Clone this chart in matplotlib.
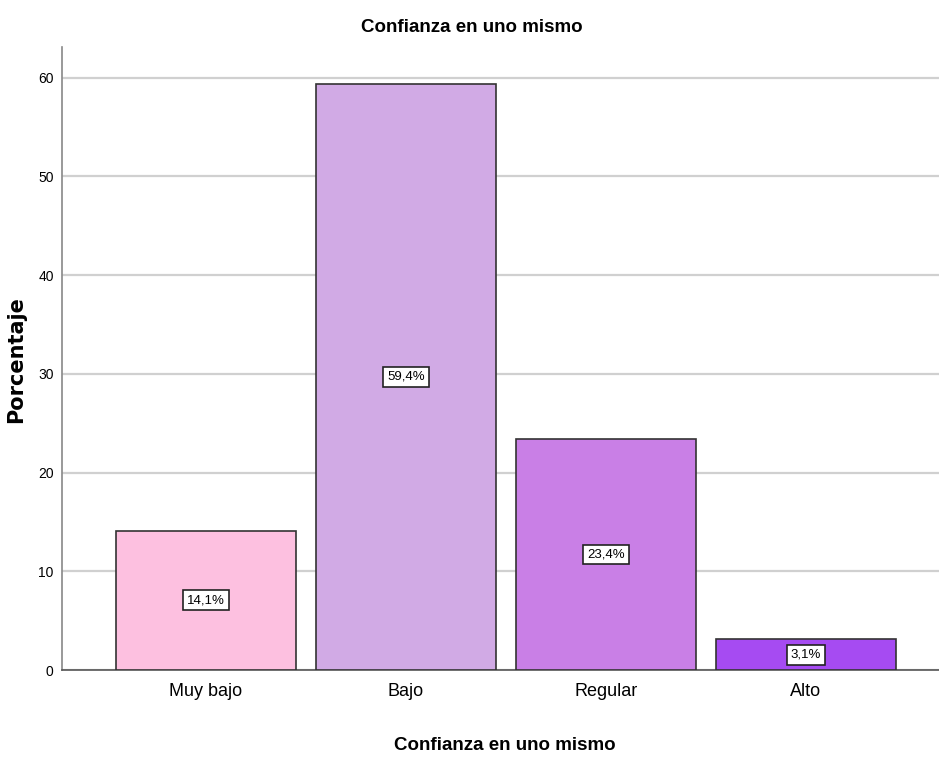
import matplotlib
matplotlib.use("Agg")
import matplotlib.pyplot as plt

categories = ["Muy bajo", "Bajo", "Regular", "Alto"]
values = [14.1, 59.4, 23.4, 3.1]
labels = ["14,1%", "59,4%", "23,4%", "3,1%"]
colors = ["#FDC0E0", "#D1AAE5", "#C97FE6", "#A64BF2"]
yticks = [0, 10, 20, 30, 40, 50, 60]

plt.rcParams["font.family"] = ["Liberation Sans", "DejaVu Sans"]

W, H = 939, 758
fig = plt.figure(figsize=(W / 100, H / 100), dpi=100)
ax = fig.add_axes([62 / W, (H - 670) / H, (939 - 62) / W, (670 - 47) / H])

x = list(range(len(categories)))
ax.bar(x, values, width=0.9, color=colors, edgecolor="#333333", linewidth=1.2, zorder=3)
for xi, v, lab in zip(x, values, labels):
    ax.text(xi, v / 2, lab, ha="center", va="center", fontsize=9.5, zorder=4,
            bbox=dict(boxstyle="square,pad=0.3", facecolor="white", edgecolor="#222222", linewidth=1.2))

ax.set_xlim(-0.72, 3.665)
ax.set_ylim(0, 63.1)
ax.set_yticks(yticks)
ax.set_yticklabels([str(t) for t in yticks], fontsize=10)
ax.set_xticks(x)
ax.set_xticklabels(categories, fontsize=13)
ax.tick_params(axis="y", length=0, pad=6)
ax.tick_params(axis="x", length=0, pad=9)
ax.yaxis.grid(True, color="#d0d0d0", linewidth=1.6, zorder=0)
ax.set_axisbelow(True)
for s in ["top", "right"]:
    ax.spines[s].set_visible(False)
ax.spines["left"].set_color("#888888")
ax.spines["bottom"].set_color("#555555")
ax.spines["left"].set_linewidth(1.2)
ax.spines["bottom"].set_linewidth(1.2)

fig.text(472 / W, 1 - 28 / H, "Confianza en uno mismo", ha="center", va="center",
         fontsize=13.5, fontweight="bold")
fig.text(505 / W, 1 - 745 / H, "Confianza en uno mismo", ha="center", va="center",
         fontsize=13.5, fontweight="bold")
fig.text(16 / W, 1 - 360 / H, "Porcentaje", ha="center", va="center", rotation=90,
         fontsize=15, fontweight="bold", family="DejaVu Sans")

fig.savefig("out.png", dpi=100)
